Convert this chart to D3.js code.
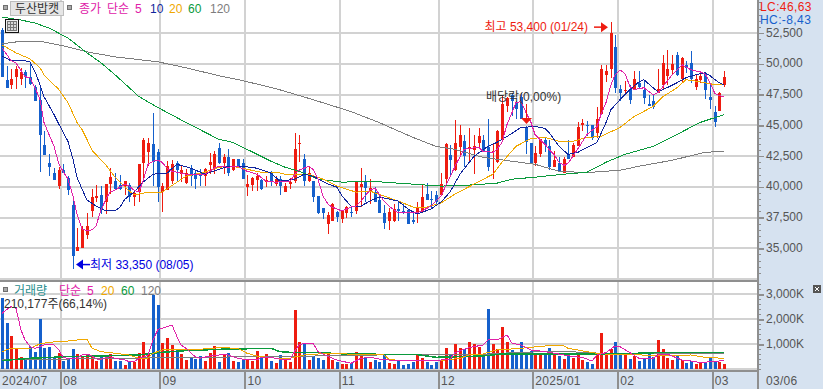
<!DOCTYPE html>
<html>
<head>
<meta charset="utf-8">
<script src="https://cdn.jsdelivr.net/npm/d3@7/dist/d3.min.js"></script>
<style>
    html, body { margin: 0; padding: 0; background: #fff; overflow: hidden; }
    svg { display: block; }
    text { font-family: "Liberation Sans", "Noto Sans CJK KR", sans-serif; font-size: 12px; }
</style>
</head>
<body>
<svg id="chart" width="823" height="389"></svg>
<script>
const stockName = "두산밥캣";

// daily prices, one entry per trading day from 2024/07/15 to 2025/03/06
const opens = [
    52750,48700,48250,48950,48800,49350,48950,48150,47100,43400,
    41900,41100,40050,41400,40700,38500,34750,35050,36100,38050,
    39100,39350,38750,40200,40500,40150,40050,40150,39200,39550,
    41900,42850,43450,42800,39600,39750,40500,41950,41050,40350,
    41450,41100,41100,40850,41750,41450,43150,41950,42400,41400,
    42300,41950,40000,40150,40550,40550,40400,41100,40200,40600,
    39600,40200,40500,43550,42250,40500,40450,39250,38300,37000,
    37250,37950,37400,37850,37950,38050,40000,40450,39600,39600,
    38950,37850,37250,37250,38200,38050,38100,37300,37750,37950,
    39400,39000,39350,39350,40600,42550,41350,43250,43750,43150,
    43000,43600,43800,43250,42800,42000,43850,46550,47500,46850,
    47350,44850,43550,41900,42650,43850,43350,41600,41900,41100,
    42650,42450,43300,45050,45050,45000,44350,45900,49100,49600,
    51350,47950,47850,47950,47900,48450,47900,46750,46950,47650,
    48300,49050,49500,50750,48800,49950,50050,48100,48700,49200,
    47350,46100,46200,48300
];
const highs = [
    52900,49850,49600,49850,49700,49500,50150,48250,48050,44550,
    42650,41500,41600,41850,40900,38850,36650,36850,37850,39850,
    40150,40100,40200,41500,41150,40950,40500,40350,39550,41850,
    44000,44000,46000,43050,40350,42100,42200,42100,41750,41450,
    41800,41300,41450,41550,42750,42900,43550,42650,43050,42300,
    42300,42300,40950,40800,41150,40600,40850,41250,40850,40900,
    40350,40750,44400,44250,42650,41700,40500,39250,38300,37950,
    38700,38050,38050,38450,38350,40500,41550,40950,40600,39950,
    39400,38500,38250,38600,38750,38600,38100,38050,38800,40150,
    40300,39700,39700,41100,43600,43400,45400,45000,44250,44800,
    44250,44750,44200,45500,43450,44650,47400,47350,47650,46950,
    47650,44950,43550,43300,43900,44000,43850,42900,42400,42450,
    43850,43600,45250,45550,45350,45050,46500,49950,49950,53400,
    52350,48300,48650,48300,49450,49450,48700,47500,47500,49600,
    50750,51150,50750,51000,50550,50200,51050,49100,49450,49300,
    48450,46600,47700,49450
];
const lows = [
    48950,48050,48000,48000,48300,48050,48250,46950,41200,42600,
    40900,40550,39800,41100,39350,33350,34750,35050,35750,37550,
    38800,37800,37750,39400,39800,39750,39350,38800,38450,38800,
    40750,41700,40100,38800,37950,39750,40200,40500,40400,40200,
    40100,39800,40100,40100,41050,41050,41850,41050,40900,41300,
    41650,40600,39250,39700,39650,39750,39950,40050,40050,39350,
    39600,39800,40350,42000,40100,40400,38750,37800,37350,36150,
    37200,37100,37050,37450,37550,37800,38350,38750,38600,38750,
    37850,36600,36500,37150,37250,37800,37000,37000,37050,37850,
    38950,38200,38450,39250,40100,40950,41300,42400,41650,42100,
    41050,43200,42800,41300,40600,41950,43800,46050,45750,45500,
    45500,42650,41900,41700,42450,42800,41350,41600,41200,41100,
    42250,42400,43300,44550,44150,43850,44000,45900,48500,48850,
    47600,46950,47650,46750,47850,47950,46750,46550,46300,47600,
    47950,48300,49100,49050,48500,49250,48450,47850,48450,47150,
    46300,44850,46150,48100
];
const closes = [
    48950,48050,48800,49600,49350,48900,48400,47000,44200,42600,
    41600,40550,41400,41100,39750,34350,35100,36600,36800,39150,
    39250,38150,40200,40800,39800,39800,40450,39150,39500,41850,
    43850,43600,42050,40000,40050,41700,41850,41400,41400,41150,
    40900,40600,40850,41450,42000,42650,41950,42450,41150,42300,
    41700,40600,40200,40700,40900,39800,40550,40400,40600,40050,
    40050,40400,43100,43600,40500,41100,39200,37850,37850,37700,
    38600,37550,38000,38400,37850,40500,40200,39900,39900,38800,
    37850,37050,37950,38200,38050,37850,37000,37150,38350,39200,
    38950,38950,38800,40200,43450,42150,43550,44200,42500,43250,
    43300,44100,42850,41600,42900,44550,46750,47250,46950,46300,
    45500,43650,41900,42750,43900,43400,41600,42150,41200,42250,
    42300,43400,44850,45200,44950,43950,45550,49600,49450,52500,
    48050,47650,47900,47100,48750,48100,47200,46600,46500,47950,
    50050,49600,50000,49100,50500,49650,48750,48800,49050,47850,
    47050,45300,47650,48950
];
const volumes = [
    2840,1870,1350,840,510,410,910,710,2010,870,
    910,510,670,350,400,810,610,510,570,510,
    350,480,570,610,350,350,190,330,280,670,
    1110,640,2970,2570,1070,1270,970,770,610,370,
    480,400,550,330,670,950,310,610,670,330,
    310,400,400,350,750,510,610,340,270,570,
    440,310,2370,1110,1040,370,550,470,370,710,
    370,310,210,210,240,710,550,480,310,370,
    310,570,270,210,330,170,210,280,570,440,
    310,170,280,330,840,570,1010,840,800,1090,
    1010,910,610,2410,1010,800,1690,1090,770,610,
    1090,710,750,610,570,570,840,610,530,410,
    610,470,690,370,310,210,570,1450,640,810,
    1090,610,570,410,530,330,440,610,480,1170,
    810,470,370,530,370,270,330,210,270,310,
    440,310,310,210
];

// moving averages as [day index, value]
const ma5 = [[0,51300],[1,50735],[2,50275],[3,50090],[5,48960],[6,48880],[7,48065],[8,47095],[9,45235],[11,43295],[12,41835],[13,41270],[14,40625],[15,39250],[16,37790],[17,36580],[18,36420],[19,36500],[20,36820],[21,38110],[22,39005],[23,39570],[24,39735],[26,40220],[27,40060],[28,39735],[29,39570],[30,40460],[31,41835],[32,42080],[33,42160],[34,42000],[35,41515],[36,41270],[37,41190],[39,41030],[41,41030],[43,41030],[44,41270],[45,41515],[46,41675],[48,41595],[50,41675],[52,41270],[54,41030],[56,40460],[58,40380],[60,40460],[61,40460],[62,41030],[63,41350],[64,41515],[65,41675],[66,41430],[67,40625],[68,39250],[69,38600],[70,38360],[72,38035],[74,38360],[75,38440],[76,38845],[77,39250],[78,39735],[79,39895],[80,39410],[81,38845],[82,38440],[84,37875],[86,37875],[88,37875],[89,38035],[91,38440],[93,39250],[94,40140],[95,40785],[96,41675],[98,43050],[99,43130],[101,43210],[102,42890],[104,42810],[105,43050],[106,43620],[107,45075],[108,46045],[109,46855],[110,46935],[111,46045],[112,45235],[113,44265],[115,43455],[116,43050],[117,42645],[118,42000],[119,41755],[120,41920],[121,42485],[123,43620],[124,44265],[126,44910],[127,45880],[128,46855],[129,48310],[130,49120],[131,49520],[132,49200],[133,48150],[134,47905],[136,48065],[138,47500],[139,47660],[140,48150],[142,49120],[144,49930],[146,49520],[148,49360],[149,49200],[150,48470],[151,47580],[152,47420],[153,47340]];
const ma10 = [[0,50655],[2,50250],[5,50250],[6,50170],[7,49360],[8,48310],[9,47340],[11,45880],[12,45075],[14,43700],[15,42240],[16,40785],[17,39815],[18,38925],[20,38440],[22,38035],[24,38035],[25,38360],[26,39005],[28,39570],[30,40380],[32,41030],[35,41110],[37,41835],[40,41515],[43,41030],[46,41430],[48,41675],[51,41675],[54,41515],[57,41110],[59,40460],[62,40625],[64,41030],[66,40865],[69,40220],[71,39975],[72,39250],[74,38440],[76,38440],[78,38845],[80,39170],[82,39005],[84,38845],[86,38195],[88,37790],[91,38195],[93,38765],[95,39570],[97,41030],[100,42485],[103,43295],[105,43620],[107,44100],[110,44830],[113,44910],[115,44750],[116,44430],[118,43295],[120,42645],[122,42810],[124,43210],[126,43620],[128,45235],[129,46290],[131,47095],[133,47905],[135,48550],[136,48715],[138,48065],[139,47745],[141,48065],[143,48470],[145,48880],[147,49120],[149,49280],[150,49040],[152,48470],[153,48310]];
const ma20 = [[0,51545],[3,50900],[6,50415],[8,49685],[9,49120],[12,47905],[13,47420],[14,46855],[16,45235],[17,44670],[18,43860],[19,42970],[22,41755],[24,40785],[26,39975],[28,39330],[31,39570],[34,39570],[37,40380],[39,40865],[43,41190],[46,41595],[49,41675],[52,41430],[55,41190],[58,41190],[60,41030],[65,41030],[68,40625],[71,40060],[75,39570],[78,39650],[81,39250],[84,38845],[87,38360],[90,38360],[93,38680],[96,39410],[100,40220],[104,41030],[106,42000],[109,43295],[112,43940],[115,44020],[118,43700],[121,43700],[124,44020],[127,44100],[131,44830],[134,45720],[138,46530],[140,47340],[143,48065],[145,48715],[148,48550],[151,48310],[153,48310]];
const ma60 = [[0,53810],[4,53570],[7,53325],[10,52920],[14,52110],[18,50900],[21,50090],[24,49120],[29,47340],[33,46450],[39,45235],[46,43860],[49,43620],[57,42080],[60,41595],[63,41270],[67,40625],[72,40380],[78,40460],[84,40300],[90,40140],[93,40060],[99,40140],[105,40300],[108,40625],[113,40785],[119,41030],[124,41190],[128,42000],[132,42645],[138,43295],[143,44265],[148,45235],[153,45880]];
const ma120 = [[0,51630],[3,51790],[9,51790],[14,51385],[18,50980],[24,50575],[33,50170],[39,49685],[46,49040],[51,48635],[58,47986],[66,47095],[74,46125],[80,45235],[87,44020],[92,43295],[96,43050],[102,42400],[108,42080],[113,41835],[118,41270],[122,41190],[125,41190],[131,41350],[135,41675],[142,42160],[149,42810],[153,42890]];

const vol5 = [[0,2240],[1,2400],[2,2507],[3,2440],[4,1573],[5,1173],[6,907],[7,840],[8,907],[9,973],[10,1013],[11,973],[12,773],[13,480],[14,427],[15,453],[16,440],[17,573],[18,613],[19,533],[20,413],[21,400],[23,507],[24,440],[26,373],[27,307],[28,307],[29,440],[30,480],[31,573],[32,1173],[33,1600],[34,1640],[36,1773],[37,1307],[38,973],[39,840],[41,507],[42,440],[44,533],[46,573],[48,573],[50,440],[52,373],[54,373],[55,480],[57,480],[59,400],[61,373],[62,747],[63,973],[64,1040],[66,1040],[67,707],[69,507],[71,373],[74,240],[76,440],[78,480],[80,413],[82,373],[84,347],[87,333],[90,333],[93,373],[95,400],[96,667],[99,867],[102,973],[103,1173],[105,1173],[107,1373],[108,1040],[110,973],[112,773],[115,707],[119,573],[121,507],[123,480],[125,333],[126,573],[128,667],[130,933],[131,907],[133,667],[135,440],[138,440],[139,573],[141,613],[144,373],[146,333],[148,267],[152,333],[153,333]];
const vol20 = [[0,707],[2,840],[6,840],[8,1013],[10,1080],[14,1133],[18,1213],[19,840],[21,707],[24,640],[27,573],[29,440],[31,440],[32,640],[34,773],[37,773],[42,800],[46,867],[50,840],[52,640],[54,533],[58,440],[61,440],[64,573],[67,613],[73,613],[81,573],[82,400],[85,333],[92,333],[97,440],[99,573],[102,613],[105,773],[110,840],[115,933],[119,933],[120,840],[124,707],[126,640],[130,573],[133,613],[138,533],[146,573],[149,480],[153,440]];
const vol60 = [[0,347],[6,440],[14,507],[21,533],[29,573],[33,667],[39,747],[46,800],[57,840],[59,707],[62,667],[67,667],[73,613],[88,587],[92,480],[102,533],[106,613],[115,613],[121,613],[130,613],[139,667],[153,680]];
const vol120 = [[0,373],[20,427],[40,480],[58,507],[80,573],[100,573],[108,667],[115,707],[120,707],[130,613],[153,613]];

const priceTicks = [35000, 37500, 40000, 42500, 45000, 47500, 50000, 52500];
const volumeTicks = [1000, 2000, 3000];
const monthStarts = [0, 13, 34, 52, 72, 93, 113, 131, 151];
const monthLabels = ["2024/07", "08", "09", "10", "11", "12", "2025/01", "02", "03"];
const lastDateLabel = "03/06";

const red = "#ee1c10", blue = "#1560cc";
const cMa5 = "#e020a8", cMa10 = "#10259c", cMa20 = "#f0a800", cMa60 = "#0a9a3c", cMa120 = "#7d7d7d";
const gridColor = "#d2d2d2", frameColor = "#8f8f8f", panelColor = "#d6e2f0", tickText = "#555";

const svg = d3.select("#chart");
const W = 823, H = 389, plotRight = 757, dateTop = 371, volTop = 281;

const x = d3.scaleBand().domain(d3.range(closes.length)).range([0, closes.length * 4.72]);
const y = d3.scaleLinear().domain([35000, 52500]).range([248.3, 33.2]);
const v = d3.scaleLinear().domain([0, 3000]).range([369.3, 294.3]);
const cx = i => Math.floor(x(i) + x.bandwidth() / 2);

svg.append("defs").append("clipPath").attr("id", "priceClip").append("rect")
    .attr("width", plotRight).attr("height", volTop);
svg.select("defs").append("clipPath").attr("id", "volClip").append("rect")
    .attr("y", volTop + 1).attr("width", plotRight).attr("height", dateTop - volTop - 1);

// side panel and date strip
svg.append("rect").attr("x", plotRight).attr("width", W - plotRight).attr("height", H).attr("fill", panelColor);
svg.append("rect").attr("y", dateTop).attr("width", W).attr("height", H - dateTop).attr("fill", panelColor);

// grid
const grid = svg.append("g").attr("stroke", gridColor).attr("stroke-width", 1.6).attr("shape-rendering", "crispEdges");
grid.selectAll(".gy").data(priceTicks.concat([32500])).enter().append("line")
    .attr("x1", 0).attr("x2", plotRight)
    .attr("y1", d => Math.round(y(d))).attr("y2", d => Math.round(y(d)));
grid.selectAll(".gv").data(volumeTicks.concat([0])).enter().append("line")
    .attr("x1", 0).attr("x2", plotRight)
    .attr("y1", d => Math.round(v(d))).attr("y2", d => Math.round(v(d)));
grid.selectAll(".gx").data(monthStarts.slice(1)).enter().append("line")
    .attr("x1", d => Math.round(x(d))).attr("x2", d => Math.round(x(d)))
    .attr("y1", 0).attr("y2", dateTop);

// candles
const price = svg.append("g").attr("clip-path", "url(#priceClip)").attr("shape-rendering", "crispEdges");
const candles = price.selectAll(".candle").data(d3.range(closes.length)).enter().append("g")
    .attr("fill", i => closes[i] >= opens[i] ? red : blue);
candles.append("rect")
    .attr("x", cx)
    .attr("width", 1)
    .attr("y", i => Math.round(y(highs[i])))
    .attr("height", i => Math.max(1, Math.round(y(lows[i])) - Math.round(y(highs[i]))));
candles.append("rect")
    .attr("x", i => cx(i) - 1)
    .attr("width", 3)
    .attr("y", i => Math.round(y(Math.max(opens[i], closes[i]))))
    .attr("height", i => Math.max(1, Math.round(y(Math.min(opens[i], closes[i]))) - Math.round(y(Math.max(opens[i], closes[i])))));

// moving averages on price
const priceLine = d3.line().x(d => cx(d[0])).y(d => y(d[1]));
[[ma120, cMa120], [ma60, cMa60], [ma20, cMa20], [ma10, cMa10], [ma5, cMa5]].forEach(s => {
    price.append("path").attr("d", priceLine(s[0])).attr("fill", "none").attr("stroke", s[1]).attr("stroke-width", 1);
});

// volume bars and averages
const vol = svg.append("g").attr("clip-path", "url(#volClip)").attr("shape-rendering", "crispEdges");
vol.selectAll(".bar").data(d3.range(volumes.length)).enter().append("rect")
    .attr("x", i => cx(i) - 1)
    .attr("width", 3)
    .attr("y", i => Math.round(v(volumes[i])))
    .attr("height", i => Math.round(v(0)) - Math.round(v(volumes[i])))
    .attr("fill", i => closes[i] >= opens[i] ? red : blue);
const volLine = d3.line().x(d => cx(d[0])).y(d => v(d[1]));
[[vol120, cMa120, 1], [vol60, cMa60, 1.5], [vol20, cMa20, 1], [vol5, cMa5, 1]].forEach(s => {
    vol.append("path").attr("d", volLine(s[0])).attr("fill", "none").attr("stroke", s[1]).attr("stroke-width", s[2]);
});

// frame
const frame = svg.append("g").attr("stroke", frameColor).attr("shape-rendering", "crispEdges");
frame.append("line").attr("x1", 0).attr("x2", plotRight).attr("y1", volTop).attr("y2", volTop).attr("stroke-width", 2);
frame.append("line").attr("x1", 0).attr("x2", plotRight + 1).attr("y1", dateTop).attr("y2", dateTop).attr("stroke-width", 1.5);
frame.append("line").attr("x1", plotRight + 1).attr("x2", plotRight + 1).attr("y1", 0).attr("y2", H).attr("stroke-width", 2);
frame.selectAll(".mt").data(monthStarts.slice(1)).enter().append("line")
    .attr("x1", d => Math.round(x(d))).attr("x2", d => Math.round(x(d)))
    .attr("y1", dateTop).attr("y2", H).attr("stroke-width", 1.5);

// right axes
const rightAxis = (scale, major, minor, fmt) => {
    const g = svg.append("g").attr("transform", `translate(${plotRight + 1},0)`);
    g.call(d3.axisRight(scale).tickValues(minor).tickSize(3).tickFormat(""));
    g.call(sel => sel.select(".domain").remove());
    g.selectAll("line").attr("stroke", frameColor).attr("shape-rendering", "crispEdges");
    const m = svg.append("g").attr("transform", `translate(${plotRight + 1},0)`);
    m.call(d3.axisRight(scale).tickValues(major).tickSize(6).tickPadding(2).tickFormat(fmt));
    m.call(sel => sel.select(".domain").remove());
    m.selectAll("line").attr("stroke", frameColor).attr("stroke-width", 1.5).attr("shape-rendering", "crispEdges");
    m.selectAll("text").attr("fill", tickText).attr("dy", "0.24em").style("font-size", "12px").attr("font-family", null);
};
rightAxis(y, priceTicks, d3.range(32500, 55001, 500).filter(d => y(d) > 2 && y(d) < volTop - 2), d3.format(","));
rightAxis(v, volumeTicks, d3.range(0, 3401, 200).filter(d => v(d) > volTop + 3 && v(d) < dateTop - 1), d => d3.format(",")(d) + "K");

// date labels
const dates = svg.append("g").attr("fill", tickText).style("letter-spacing", "0.3px");
dates.selectAll("text").data(monthStarts).enter().append("text")
    .attr("x", d => x(d) + 2)
    .attr("y", 385)
    .text((d, i) => monthLabels[i]);
dates.append("text").attr("x", plotRight + 9).attr("y", 385).text(lastDateLabel);

// labels at the top
const label = (px, py, text, fill, anchor) => svg.append("text")
    .attr("x", px).attr("y", py).attr("fill", fill)
    .attr("text-anchor", anchor || "start").text(text);
const square = (px, py) => svg.append("rect")
    .attr("x", px).attr("y", py).attr("width", 4).attr("height", 4)
    .attr("fill", "#a9a9a9").attr("stroke", "#6f6f6f").attr("shape-rendering", "crispEdges");

square(3, 5);
svg.append("rect").attr("x", 10.5).attr("y", 1.5).attr("width", 53).attr("height", 14)
    .attr("fill", "#e6e6e6").attr("stroke", "#bdbdbd");
label(37, 13, stockName, "#333", "middle");
square(67, 5);
label(79, 13, "종가", cMa5);
label(107, 13, "단순", cMa5);
label(135, 13, "5", cMa5);
label(150, 13, "10", cMa10);
label(169, 13, "20", cMa20);
label(188, 13, "60", cMa60);
label(210, 13, "120", cMa120);

// table icon
svg.append("rect").attr("x", 5.5).attr("y", 19.5).attr("width", 13).attr("height", 13)
    .attr("fill", "#eee").attr("stroke", "#111").attr("shape-rendering", "crispEdges");
svg.append("rect").attr("x", 7.5).attr("y", 21.5).attr("width", 9).attr("height", 9)
    .attr("fill", "#d8d8d8").attr("stroke", "#777").attr("shape-rendering", "crispEdges");
svg.append("path").attr("d", "M10.5 21.5V30.5M13.5 21.5V30.5M7.5 24.5H16.5M7.5 27.5H16.5")
    .attr("stroke", "#777").attr("shape-rendering", "crispEdges");

label(760, 11, "LC:46,63", red).style("letter-spacing", "0.4px");
label(760, 24, "HC:-8,43", blue).style("letter-spacing", "0.4px");

// high / low / dividend notes
const highDay = closes.length - 25, lowDay = 15, dividendDay = 111;
const hx = cx(highDay) - 3, hy = y(53400) + 5;
svg.append("path").attr("d", d3.line()([[hx - 14, hy], [hx - 7, hy]])).attr("stroke", red).attr("stroke-width", 1.5);
svg.append("path").attr("d", d3.line()([[hx, hy], [hx - 7, hy - 5], [hx - 7, hy + 5]])).attr("fill", red);
label(hx - 20, hy + 4, "최고 53,400 (01/24)", red, "end");

const lx = cx(lowDay) + 3, ly = y(33350) - 4;
svg.append("path").attr("d", d3.line()([[lx + 7, ly], [lx + 14, ly]])).attr("stroke", "#0000e0").attr("stroke-width", 1.5);
svg.append("path").attr("d", d3.line()([[lx, ly], [lx + 7, ly - 5], [lx + 7, ly + 5]])).attr("fill", "#0000e0");
label(lx + 14, ly + 4, "최저 33,350 (08/05)", "#0000e0");

const dx = cx(dividendDay), dy = y(44950);
svg.append("line").attr("x1", dx + 0.5).attr("x2", dx + 0.5).attr("y1", dy - 22).attr("y2", dy - 6)
    .attr("stroke", red).attr("shape-rendering", "crispEdges");
svg.append("path").attr("d", d3.line()([[dx - 5, dy - 8], [dx + 6, dy - 8], [dx + 0.5, dy - 2]])).attr("fill", red);
label(486, 101, "배당락(0,00%)", "#333");

// volume labels
square(3, 287);
label(14, 294.5, "거래량", "#2a8f8f");
label(59, 294.5, "단순", cMa5);
label(87, 294.5, "5", cMa5);
label(101, 294.5, "20", cMa20);
label(121, 294.5, "60", cMa60);
label(141, 294.5, "120", cMa120);
label(4, 308, "210,177주(66,14%)", "#333");

// corner button
svg.append("rect").attr("x", 813).attr("y", 285).attr("width", 8).attr("height", 8).attr("fill", "#555");
svg.append("path").attr("d", "M815 287L819 291M819 287L815 291").attr("stroke", "#fff").attr("shape-rendering", "crispEdges");
</script>
</body>
</html>
